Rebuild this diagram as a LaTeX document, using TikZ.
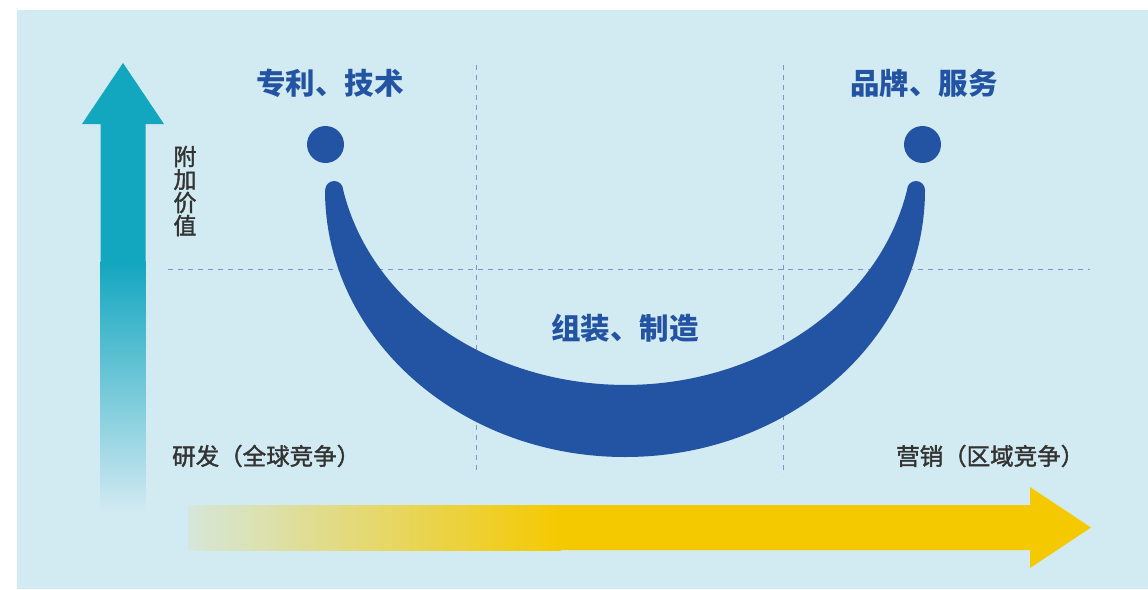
\documentclass[tikz,border=0pt]{standalone}
\usepackage{fontspec}
\usepackage{tikz}
\newfontfamily\cjk{Noto Sans CJK SC}
\newfontfamily\cjkmid[FakeBold=1.6]{Noto Sans CJK SC}
\definecolor{bgblue}{HTML}{D2EAF2}
\definecolor{smileblue}{HTML}{2353A3}
\definecolor{tealarrow}{HTML}{12A6BF}
\definecolor{goldarrow}{HTML}{F5C900}
\definecolor{gridblue}{HTML}{8093CC}
\definecolor{textgray}{HTML}{333333}

\tikzset{
    stagelabel/.style={font=\cjk\bfseries\fontsize{29.5}{29.5}\selectfont, text=smileblue, inner sep=0pt},
    axislabel/.style={font=\cjkmid\fontsize{23.5}{23.5}\selectfont, text=textgray, inner sep=0pt},
    gridline/.style={gridblue, line width=1pt, dash pattern=on 5pt off 5pt},
}

\begin{document}
\begin{tikzpicture}[x=1pt,y=1pt]
    % page and background panel
    \useasboundingbox (0,0) rectangle (1148,-589);
    \fill[white] (0,0) rectangle (1148,-589);
    \fill[bgblue] (17,-10) rectangle (1148,-589);

    % dashed grid
    \draw[gridline] (476,-65) -- (476,-475); % left divider
    \draw[gridline] (783,-65) -- (783,-475); % right divider
    \draw[gridline] (168,-269) -- (1090,-269); % middle level

    % value axis (up arrow, fading out at the bottom)
    \fill[tealarrow] (82,-124) -- (123,-63) -- (164,-124) -- (145.5,-124) -- (145.5,-262) -- (100.5,-262) -- (100.5,-124) -- cycle; % head and top of shaft
    \shade[top color=tealarrow, bottom color=bgblue] (100.5,-261) rectangle (145.5,-512); % faded shaft

    % chain axis (right arrow, fading in from the left)
    \shade[left color=bgblue!90!goldarrow, right color=goldarrow] (188,-505) rectangle (561,-550); % faded shaft
    \fill[goldarrow] (560,-505) -- (1030,-505) -- (1030,-487) -- (1091,-527.5) -- (1030,-568) -- (1030,-550) -- (560,-550) -- cycle; % shaft and head

    % smile curve
    \fill[smileblue] (325,-190) arc[start angle=180, end angle=360, x radius=300, y radius=267] % outer edge
        arc[start angle=0, end angle=180, radius=9] % right tip
        arc[start angle=348.2, end angle=191.8, x radius=288, y radius=245] % inner edge
        arc[start angle=0, end angle=180, radius=9] -- cycle; % left tip
    \fill[smileblue] (325.5,-144.5) circle[radius=18.5]; % left dot
    \fill[smileblue] (922.5,-144.5) circle[radius=18.5]; % right dot

    % labels
    \node[stagelabel] (patent) at (330,-83.5) {专利、技术};
    \node[stagelabel] (brand) at (924,-83.5) {品牌、服务};
    \node[stagelabel] (assembly) at (625,-328) {组装、制造};
    \node[axislabel, align=center, font=\cjkmid\fontsize{23}{23}\selectfont] (value) at (185,-191) {附\\加\\价\\值};
    \node[axislabel, anchor=west] (research) at (172,-456) {研发（全球竞争）};
    \node[axislabel, anchor=west] (marketing) at (896,-456) {营销（区域竞争）};
\end{tikzpicture}
\end{document}
